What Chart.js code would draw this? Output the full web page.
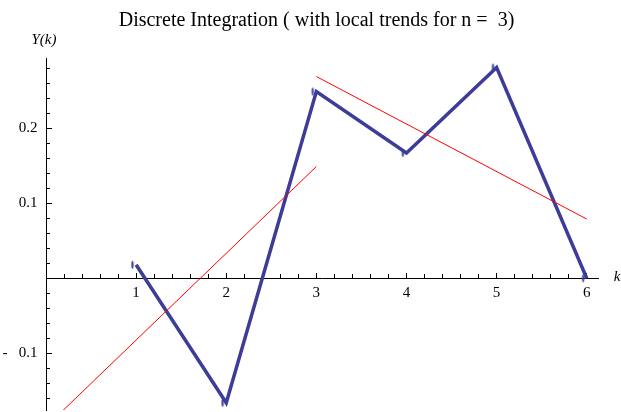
<!DOCTYPE html>
<html>
<head>
<meta charset="utf-8">
<script src="https://cdn.jsdelivr.net/npm/chart.js@4"></script>
<style>
  html, body { margin: 0; padding: 0; background: #fff; }
  #wrap { width: 621px; height: 412px; }
</style>
</head>
<body>
<div id="wrap"><canvas id="c" width="621" height="412"></canvas></div>
<script>
// Discrete integration Y[k] and its two local linear trends
const kValues = [1, 2, 3, 4, 5, 6];
const yValues = [0.018, -0.166, 0.249, 0.167, 0.281, 0.0];

// Trend line end points (k, Y)
const trendLeftK = [0, 3];
const trendLeftY = [-0.198, 0.149];
const trendRightK = [3, 6];
const trendRightY = [0.269, 0.079];

// Axis ticks
const xMajorTicks = [1, 2, 3, 4, 5, 6];
const xTickLabels = ['1', '2', '3', '4', '5', '6'];
const yMajorTicks = [-0.1, 0.1, 0.2];
const yTickLabels = ['-   0.1', '0.1', '0.2'];

const xMinorTicks = [];
for (let i = 1; i <= 30; i++) if (i % 5) xMinorTicks.push(i / 5);
const yMinorTicks = [];
for (let i = -8; i <= 14; i++) if (i % 5) yMinorTicks.push(i / 50);

const X_MIN = 0, X_MAX = 6.125;
const Y_MIN = -0.1756, Y_MAX = 0.2933;

const BLUE = '#3d3d99';
const RED = '#ff0000';
const SERIF = "'Liberation Serif', 'Times New Roman', serif";

Chart.defaults.font.family = SERIF;

// small vertical mark drawn beside each data point
const mark = document.createElement('canvas');
mark.width = 12; mark.height = 12;
(function () {
  const g = mark.getContext('2d');
  g.fillStyle = BLUE;
  g.beginPath();
  g.ellipse(2.4, 6, 1.1, 4, 0, 0, Math.PI * 2);
  g.fill();
})();

const toPoints = (xs, ys) => xs.map((x, i) => ({ x: x, y: ys[i] }));

const axisLabels = {
  id: 'axisLabels',
  afterDraw(chart) {
    const { ctx, chartArea, scales } = chart;
    ctx.save();
    ctx.fillStyle = '#000';
    ctx.font = 'italic 15px ' + SERIF;
    ctx.textAlign = 'center';
    ctx.textBaseline = 'middle';
    ctx.fillText('Y(k)', chartArea.left - 2, chartArea.top - 18);
    ctx.fillText('k', chartArea.right + 19, scales.y.getPixelForValue(0) - 1);
    ctx.restore();
  }
};

const tickFont = { family: SERIF, size: 15 };
const noSize = s => {
  if (s.isHorizontal()) s.height = 0; else s.width = 0;
  s.paddingTop = s.paddingBottom = s.paddingLeft = s.paddingRight = 0;
};

new Chart(document.getElementById('c'), {
  type: 'line',
  data: {
    datasets: [
      {
        data: toPoints(kValues, yValues),
        borderColor: BLUE,
        borderWidth: 3.5,
        borderJoinStyle: 'miter',
        backgroundColor: BLUE,
        pointStyle: mark,
        pointRadius: 4,
        pointHoverRadius: 4,
        tension: 0,
        fill: false,
        order: 1
      },
      {
        data: toPoints(trendLeftK, trendLeftY),
        borderColor: RED,
        borderWidth: 1,
        pointRadius: 0,
        fill: false,
        order: 0
      },
      {
        data: toPoints(trendRightK, trendRightY),
        borderColor: RED,
        borderWidth: 1,
        pointRadius: 0,
        fill: false,
        order: 0
      }
    ]
  },
  options: {
    responsive: false,
    animation: false,
    devicePixelRatio: 1,
    layout: { autoPadding: false, padding: { left: 0, right: 23, top: 0, bottom: 2 } },
    plugins: {
      legend: { display: false },
      tooltip: { enabled: false },
      title: {
        display: true,
        text: '       Discrete Integration ( with local trends for n =  3)',
        color: '#000',
        font: { family: SERIF, size: 20, weight: 'normal' },
        padding: { top: 9, bottom: 25.3 }
      }
    },
    scales: {
      x: {
        type: 'linear',
        axis: 'x',
        position: { y: 0 },
        min: X_MIN, max: X_MAX,
        afterBuildTicks: s => { s.ticks = xMajorTicks.map(v => ({ value: v })); },
        afterFit: noSize,
        ticks: {
          autoSkip: false, maxRotation: 0, padding: 12,
          color: '#000', font: tickFont,
          callback: (v, i) => xTickLabels[i]
        },
        grid: { drawOnChartArea: false, drawTicks: true, tickLength: -6, tickColor: '#000', tickWidth: 1 },
        border: { display: true, color: '#000', width: 1 }
      },
      x2: {
        type: 'linear',
        axis: 'x',
        position: { y: 0 },
        min: X_MIN, max: X_MAX,
        afterBuildTicks: s => { s.ticks = xMinorTicks.map(v => ({ value: v })); },
        afterFit: noSize,
        ticks: { display: false },
        grid: { drawOnChartArea: false, drawTicks: true, tickLength: -4, tickColor: '#000', tickWidth: 1 },
        border: { display: false }
      },
      y: {
        type: 'linear',
        axis: 'y',
        position: 'left',
        min: Y_MIN, max: Y_MAX,
        afterBuildTicks: s => { s.ticks = yMajorTicks.map(v => ({ value: v })); },
        afterFit: s => { s.width = 46; s.paddingTop = 0; s.paddingBottom = 0; },
        ticks: {
          padding: 14.5,
          color: '#000', font: tickFont,
          callback: (v, i) => yTickLabels[i]
        },
        grid: { drawOnChartArea: false, drawTicks: true, tickLength: -6, tickColor: '#000', tickWidth: 1 },
        border: { display: true, color: '#000', width: 1 }
      },
      y2: {
        type: 'linear',
        axis: 'y',
        position: { x: 0 },
        min: Y_MIN, max: Y_MAX,
        afterBuildTicks: s => { s.ticks = yMinorTicks.map(v => ({ value: v })); },
        afterFit: noSize,
        ticks: { display: false },
        grid: { drawOnChartArea: false, drawTicks: true, tickLength: -4, tickColor: '#000', tickWidth: 1 },
        border: { display: false }
      }
    }
  },
  plugins: [axisLabels]
});
</script>
</body>
</html>
